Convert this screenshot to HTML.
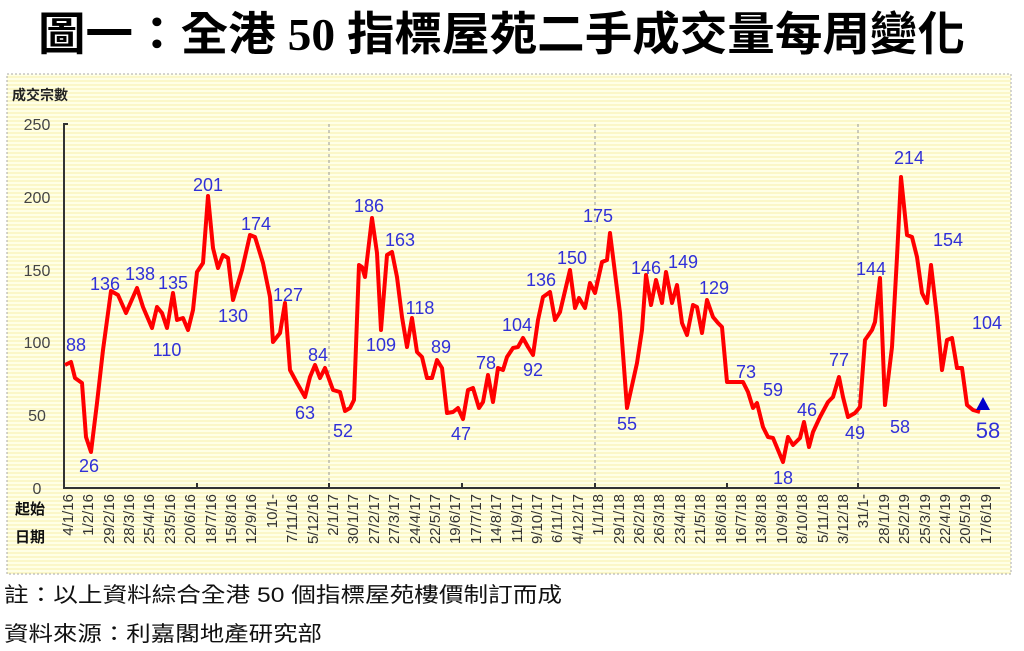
<!DOCTYPE html>
<html><head><meta charset="utf-8"><style>
body{margin:0;background:#fff;width:1024px;height:651px;overflow:hidden}
svg{display:block}
</style></head><body>
<svg width="1024" height="651" viewBox="0 0 1024 651" xmlns="http://www.w3.org/2000/svg">
<defs>
<pattern id="st" width="4" height="4" patternUnits="userSpaceOnUse">
<rect width="4" height="4" fill="#ffffe6"/><rect width="4" height="2" fill="#fbf7c8"/>
</pattern>
</defs>
<text x="38" y="50" textLength="927" lengthAdjust="spacingAndGlyphs" font-family="'Liberation Serif','Noto Sans CJK TC',serif" font-weight="bold" font-size="46" fill="#000">圖一：全港 50 指標屋苑二手成交量每周變化</text>
<rect x="7" y="74" width="1004" height="500" fill="url(#st)" stroke="#aaa" stroke-dasharray="2,2"/>
<text x="12" y="100" font-family="'Liberation Sans','Noto Sans CJK TC',sans-serif" font-weight="bold" font-size="14" fill="#222">成交宗數</text>
<g font-family="'Liberation Sans',sans-serif" font-size="16" fill="#444" text-anchor="middle">
<text x="37" y="130">250</text><text x="37" y="203">200</text><text x="37" y="276">150</text><text x="37" y="348">100</text><text x="37" y="421">50</text><text x="37" y="494">0</text>
</g>
<g stroke="#999" stroke-dasharray="3,3" stroke-width="1">
<line x1="329" y1="124" x2="329" y2="488"/><line x1="595" y1="124" x2="595" y2="488"/><line x1="858" y1="124" x2="858" y2="488"/>
</g>
<g stroke="#333" stroke-width="2" fill="none">
<polyline points="68,124 64,124 64,488 1000,488"/>
<line x1="197" y1="488" x2="197" y2="483"/><line x1="329" y1="488" x2="329" y2="483"/><line x1="462" y1="488" x2="462" y2="483"/><line x1="595" y1="488" x2="595" y2="483"/><line x1="727" y1="488" x2="727" y2="483"/><line x1="858" y1="488" x2="858" y2="483"/>
</g>
<polyline fill="none" stroke="#f00" stroke-width="4" stroke-linejoin="round" points="65,365 71,362 75,378 82,383 86,437 91,452 97,403 103,350 111,291 118,295 126,313 137,288 143,307 152,328 157,307 162,313 167,328 173,293 177,320 183,318 188,330 193,310 197,272 203,263 208,196 213,248 218,268 223,255 228,258 233,300 242,270 250,235 255,237 263,263 270,297 273,342 280,333 285,303 290,370 297,383 305,397 310,377 315,365 320,378 325,368 333,390 340,392 345,411 350,408 354,400 359,265 362,267 365,277 372,218 377,253 381,330 387,255 392,252 397,277 402,317 407,347 412,318 417,352 422,357 427,378 432,378 437,360 442,368 447,413 453,412 458,408 463,419 468,390 473,388 479,408 483,402 488,375 493,402 498,368 503,370 507,357 513,348 518,347 523,338 528,347 533,355 538,320 543,297 550,292 555,320 560,312 570,270 575,308 579,298 585,308 590,283 595,293 602,262 607,260 610,233 620,313 627,408 637,363 642,330 646,275 651,305 656,280 662,303 666,272 672,303 677,285 682,323 687,335 693,305 697,307 702,333 707,300 713,317 718,323 722,327 727,382 735,382 743,382 748,392 753,408 757,403 763,427 768,437 773,438 783,462 788,437 793,445 800,438 804,422 809,447 813,432 820,417 828,402 833,397 839,377 843,397 848,417 855,413 860,407 865,340 872,330 875,322 880,278 885,405 892,347 897,257 901,177 907,235 912,237 917,257 922,293 927,303 931,265 937,317 942,370 947,340 952,338 957,368 962,368 967,405 973,410 980,412"/>
<polygon points="983,397 976,410 990,410" fill="#0000cc"/>
<g font-family="'Liberation Sans',sans-serif" font-size="18" fill="#3030d8" text-anchor="middle">
<text x="76" y="351">88</text><text x="89" y="472">26</text><text x="105" y="290">136</text><text x="140" y="280">138</text><text x="173" y="289">135</text><text x="167" y="356">110</text><text x="208" y="191">201</text><text x="233" y="322">130</text><text x="256" y="230">174</text><text x="288" y="301">127</text><text x="305" y="419">63</text><text x="318" y="361">84</text><text x="343" y="437">52</text><text x="369" y="212">186</text><text x="400" y="246">163</text><text x="381" y="351">109</text><text x="420" y="314">118</text><text x="441" y="353">89</text><text x="461" y="440">47</text><text x="486" y="369">78</text><text x="517" y="331">104</text><text x="533" y="376">92</text><text x="541" y="286">136</text><text x="572" y="264">150</text><text x="598" y="222">175</text><text x="627" y="430">55</text><text x="646" y="274">146</text><text x="683" y="268">149</text><text x="714" y="294">129</text><text x="746" y="378">73</text><text x="773" y="396">59</text><text x="807" y="416">46</text><text x="783" y="484">18</text><text x="839" y="366">77</text><text x="855" y="439">49</text><text x="871" y="275">144</text><text x="900" y="433">58</text><text x="909" y="164">214</text><text x="948" y="246">154</text><text x="987" y="329">104</text><text x="988" y="438" font-size="22">58</text>
</g>
<g font-family="'Liberation Sans','Noto Sans CJK TC',sans-serif" font-weight="bold" font-size="15" fill="#111">
<text x="15" y="514">起始</text><text x="15" y="542">日期</text>
</g>
<g font-family="'Liberation Sans',sans-serif" font-size="15" fill="#333" text-anchor="end">
<text transform="translate(73,494) rotate(-90)">4/1/16</text>
<text transform="translate(93,494) rotate(-90)">1/2/16</text>
<text transform="translate(114,494) rotate(-90)">29/2/16</text>
<text transform="translate(134,494) rotate(-90)">28/3/16</text>
<text transform="translate(154,494) rotate(-90)">25/4/16</text>
<text transform="translate(175,494) rotate(-90)">23/5/16</text>
<text transform="translate(195,494) rotate(-90)">20/6/16</text>
<text transform="translate(216,494) rotate(-90)">18/7/16</text>
<text transform="translate(236,494) rotate(-90)">15/8/16</text>
<text transform="translate(256,494) rotate(-90)">12/9/16</text>
<text transform="translate(277,494) rotate(-90)">10/1-</text>
<text transform="translate(297,494) rotate(-90)">7/11/16</text>
<text transform="translate(318,494) rotate(-90)">5/12/16</text>
<text transform="translate(338,494) rotate(-90)">2/1/17</text>
<text transform="translate(358,494) rotate(-90)">30/1/17</text>
<text transform="translate(379,494) rotate(-90)">27/2/17</text>
<text transform="translate(399,494) rotate(-90)">27/3/17</text>
<text transform="translate(420,494) rotate(-90)">24/4/17</text>
<text transform="translate(440,494) rotate(-90)">22/5/17</text>
<text transform="translate(460,494) rotate(-90)">19/6/17</text>
<text transform="translate(481,494) rotate(-90)">17/7/17</text>
<text transform="translate(501,494) rotate(-90)">14/8/17</text>
<text transform="translate(522,494) rotate(-90)">11/9/17</text>
<text transform="translate(542,494) rotate(-90)">9/10/17</text>
<text transform="translate(562,494) rotate(-90)">6/11/17</text>
<text transform="translate(583,494) rotate(-90)">4/12/17</text>
<text transform="translate(603,494) rotate(-90)">1/1/18</text>
<text transform="translate(624,494) rotate(-90)">29/1/18</text>
<text transform="translate(644,494) rotate(-90)">26/2/18</text>
<text transform="translate(664,494) rotate(-90)">26/3/18</text>
<text transform="translate(685,494) rotate(-90)">23/4/18</text>
<text transform="translate(705,494) rotate(-90)">21/5/18</text>
<text transform="translate(726,494) rotate(-90)">18/6/18</text>
<text transform="translate(746,494) rotate(-90)">16/7/18</text>
<text transform="translate(766,494) rotate(-90)">13/8/18</text>
<text transform="translate(787,494) rotate(-90)">10/9/18</text>
<text transform="translate(807,494) rotate(-90)">8/10/18</text>
<text transform="translate(828,494) rotate(-90)">5/11/18</text>
<text transform="translate(848,494) rotate(-90)">3/12/18</text>
<text transform="translate(868,494) rotate(-90)">31/1-</text>
<text transform="translate(889,494) rotate(-90)">28/1/19</text>
<text transform="translate(909,494) rotate(-90)">25/2/19</text>
<text transform="translate(930,494) rotate(-90)">25/3/19</text>
<text transform="translate(950,494) rotate(-90)">22/4/19</text>
<text transform="translate(970,494) rotate(-90)">20/5/19</text>
<text transform="translate(991,494) rotate(-90)">17/6/19</text>
</g>
<g font-family="'Liberation Sans','Noto Sans CJK TC',sans-serif" font-size="21" fill="#111">
<text x="4" y="602" textLength="558" lengthAdjust="spacingAndGlyphs">註：以上資料綜合全港 50 個指標屋苑樓價制訂而成</text>
<text x="4" y="641" textLength="318" lengthAdjust="spacingAndGlyphs">資料來源：利嘉閣地產研究部</text>
</g>
</svg>
</body></html>
